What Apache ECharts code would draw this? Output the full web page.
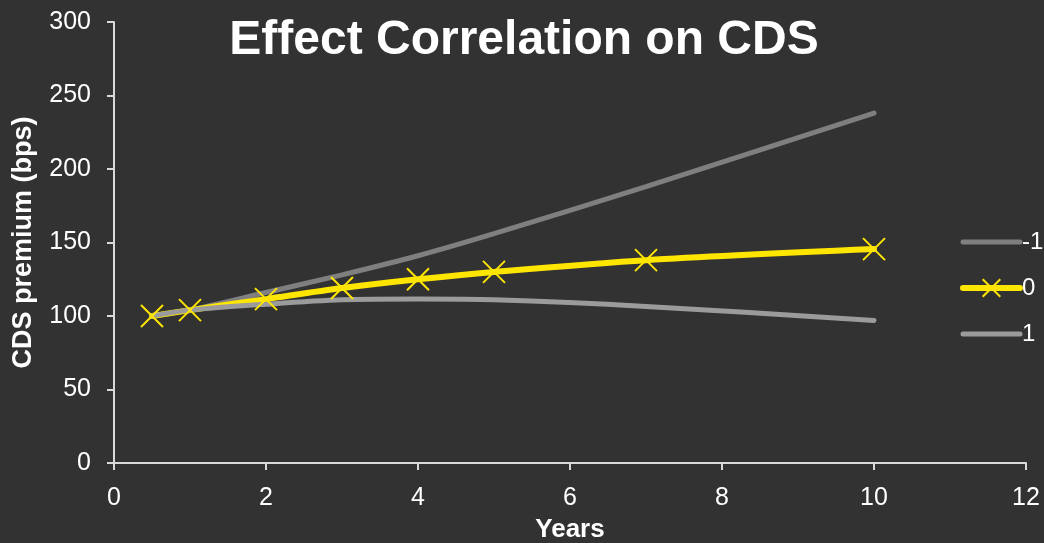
<!DOCTYPE html>
<html>
<head>
<meta charset="utf-8">
<script src="https://cdn.jsdelivr.net/npm/echarts@6/dist/echarts.min.js"></script>
<style>
  html, body { margin: 0; padding: 0; background: #323232; }
  #chart { width: 1044px; height: 543px; }
</style>
</head>
<body>
<div id="chart"></div>
<script>
// Maturities (years) and CDS premium (bps) for each correlation level
const years = [0.5, 1, 2, 3, 4, 5, 7, 10];
const seriesNames = ['-1', '0', '1'];
const corrNeg = [100, 104, 116, 128, 141, 156, 188, 238];
const corrZero = [100, 104, 111.5, 119, 125, 130, 138, 145.5];
const corrPos = [100, 104, 108, 111, 111.5, 111, 106.5, 97];

const FONT = 'Liberation Sans, Arial, sans-serif';
const pairs = vals => years.map((x, i) => [x, vals[i]]);
const crossSymbol = 'path://M0,0L10,10M10,0L0,10';
// plain lines: hide the marker in their legend icon so only the line shows
const hiddenMarker = { opacity: 0, borderWidth: 0 };

const chart = echarts.init(document.getElementById('chart'));
chart.setOption({
  backgroundColor: '#323232',
  animation: false,
  title: {
    text: 'Effect Correlation on CDS',
    left: 519,
    textAlign: 'center',
    top: 12,
    textStyle: { color: '#ffffff', fontSize: 48, fontWeight: 'bold', fontFamily: FONT }
  },
  legend: {
    orient: 'vertical',
    left: 960,
    top: 230,
    padding: 0,
    itemWidth: 57,
    itemHeight: 22,
    itemGap: 22,
    lineStyle: { width: 5, cap: 'round' },
    data: [
      { name: seriesNames[0], itemStyle: hiddenMarker },
      { name: seriesNames[1], itemStyle: { color: 'rgba(0,0,0,0)', borderColor: '#ffe600', borderWidth: 2 }, lineStyle: { width: 6, cap: 'round' } },
      { name: seriesNames[2], itemStyle: hiddenMarker }
    ],
    textStyle: { color: '#ffffff', fontSize: 24, fontFamily: FONT, padding: [0, 0, 0, -3] }
  },
  grid: { left: 114, right: 18, top: 22, bottom: 80, containLabel: false, outerBoundsMode: 'none' },
  xAxis: {
    type: 'value',
    min: 0, max: 12, interval: 2,
    name: 'Years',
    nameLocation: 'middle',
    nameGap: 54,
    nameTextStyle: { color: '#ffffff', fontSize: 26, fontWeight: 'bold', fontFamily: FONT },
    axisLine: { lineStyle: { color: '#d9d9d9', width: 2 } },
    axisTick: { show: true, length: 7, lineStyle: { color: '#d9d9d9', width: 2 } },
    axisLabel: { color: '#ffffff', fontSize: 25, margin: 23, fontFamily: FONT },
    splitLine: { show: false }
  },
  yAxis: {
    type: 'value',
    min: 0, max: 300, interval: 50,
    name: 'CDS premium (bps)',
    nameLocation: 'middle',
    nameGap: 77,
    nameTextStyle: { color: '#ffffff', fontSize: 27, fontWeight: 'bold', fontFamily: FONT },
    axisLine: { show: true, lineStyle: { color: '#d9d9d9', width: 2 } },
    axisTick: { show: true, length: 7, lineStyle: { color: '#d9d9d9', width: 2 } },
    axisLabel: { color: '#ffffff', fontSize: 25, margin: 23, fontFamily: FONT },
    splitLine: { show: false }
  },
  series: [
    {
      name: seriesNames[0], type: 'line', smooth: 0.3,
      data: pairs(corrNeg),
      symbol: 'circle', showSymbol: false,
      lineStyle: { color: '#7f7f7f', width: 5, cap: 'round' },
      itemStyle: { color: '#7f7f7f' }
    },
    {
      name: seriesNames[1], type: 'line', smooth: 0.3,
      data: pairs(corrZero),
      symbol: crossSymbol, symbolSize: 22,
      lineStyle: { color: '#ffe600', width: 6, cap: 'round' },
      itemStyle: { color: 'rgba(0,0,0,0)', borderColor: '#ffe600', borderWidth: 2 }
    },
    {
      name: seriesNames[2], type: 'line', smooth: 0.3,
      data: pairs(corrPos),
      symbol: 'circle', showSymbol: false,
      lineStyle: { color: '#9b9b9b', width: 5, cap: 'round' },
      itemStyle: { color: '#9b9b9b' }
    }
  ]
});
</script>
</body>
</html>
